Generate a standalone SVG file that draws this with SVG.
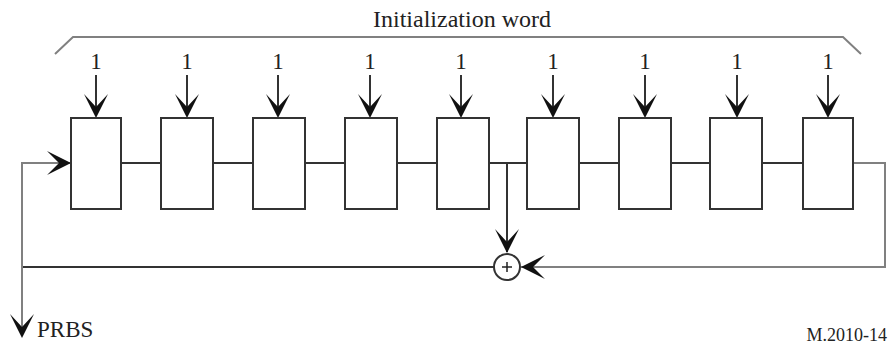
<svg xmlns="http://www.w3.org/2000/svg" width="890" height="347" viewBox="0 0 890 347">
<defs>
<style>
.box{fill:#fff;stroke:#333;stroke-width:2}
.ln{fill:none;stroke:#333;stroke-width:2}
.lg{fill:none;stroke:#808080;stroke-width:2}
text{font-family:"Liberation Serif","Times New Roman",serif;fill:#222}
.ah{fill:#111}
</style>
<path id="ad" class="ah" d="M0,0 L-12,-24 L0,-11 L12,-24 Z"/>
</defs>
<rect width="890" height="347" fill="#fff"/>
<text x="462" y="27" font-size="24" text-anchor="middle" font-family="Liberation Serif, serif">Initialization word</text>
<path class="lg" d="M55,54 L73,37 L843,37 L861,54"/>
<g id="connectors">
<path class="ln" d="M121,163 H161 M213,163 H253 M305,163 H345 M397,163 H437 M489,163 H527 M579,163 H619 M671,163 H710 M762,163 H803"/>
<path class="ln" d="M507,163 V252"/>
<use href="#ad" x="507" y="253"/>
<path class="lg" d="M853,163 H885 V267 H521"/>
<path class="ah" d="M521,267 L545,255 L533,267 L545,279 Z"/>
<path class="ln" d="M494,267 H22"/>
<path class="lg" d="M22,333 V163 H70"/>
<path class="ah" d="M71,163 L47,151 L59,163 L47,175 Z"/>
<use href="#ad" x="22" y="338"/>
<path class="ln" d="M96,75 V116 M187,75 V116 M278,75 V116 M370,75 V116 M461,75 V116 M553,75 V116 M645,75 V116 M737,75 V116 M828,75 V116"/>
<use href="#ad" x="96" y="118"/>
<use href="#ad" x="187" y="118"/>
<use href="#ad" x="278" y="118"/>
<use href="#ad" x="370" y="118"/>
<use href="#ad" x="461" y="118"/>
<use href="#ad" x="553" y="118"/>
<use href="#ad" x="645" y="118"/>
<use href="#ad" x="737" y="118"/>
<use href="#ad" x="828" y="118"/>
</g>
<g id="labels" font-size="23" text-anchor="middle" font-family="Liberation Serif, serif">
<text x="96" y="69">1</text>
<text x="187" y="69">1</text>
<text x="278" y="69">1</text>
<text x="370" y="69">1</text>
<text x="461" y="69">1</text>
<text x="553" y="69">1</text>
<text x="645" y="69">1</text>
<text x="737" y="69">1</text>
<text x="828" y="69">1</text>
</g>
<g id="reg1"><rect class="box" x="71" y="118" width="50" height="91"/></g>
<g id="reg2"><rect class="box" x="161" y="118" width="52" height="91"/></g>
<g id="reg3"><rect class="box" x="253" y="118" width="52" height="91"/></g>
<g id="reg4"><rect class="box" x="345" y="118" width="52" height="91"/></g>
<g id="reg5"><rect class="box" x="437" y="118" width="52" height="91"/></g>
<g id="reg6"><rect class="box" x="527" y="118" width="52" height="91"/></g>
<g id="reg7"><rect class="box" x="619" y="118" width="52" height="91"/></g>
<g id="reg8"><rect class="box" x="710" y="118" width="52" height="91"/></g>
<g id="reg9"><rect class="box" x="803" y="118" width="50" height="91"/></g>
<g id="xor">
<circle cx="507" cy="267" r="13" fill="#fff" stroke="#333" stroke-width="2"/>
<path d="M502,267 H512 M507,262 V272" stroke="#222" stroke-width="1.5"/>
</g>
<text x="37" y="337" font-size="23" font-family="Liberation Serif, serif">PRBS</text>
<text x="887" y="341" font-size="18" text-anchor="end" font-family="Liberation Serif, serif">M.2010-14</text>
</svg>
